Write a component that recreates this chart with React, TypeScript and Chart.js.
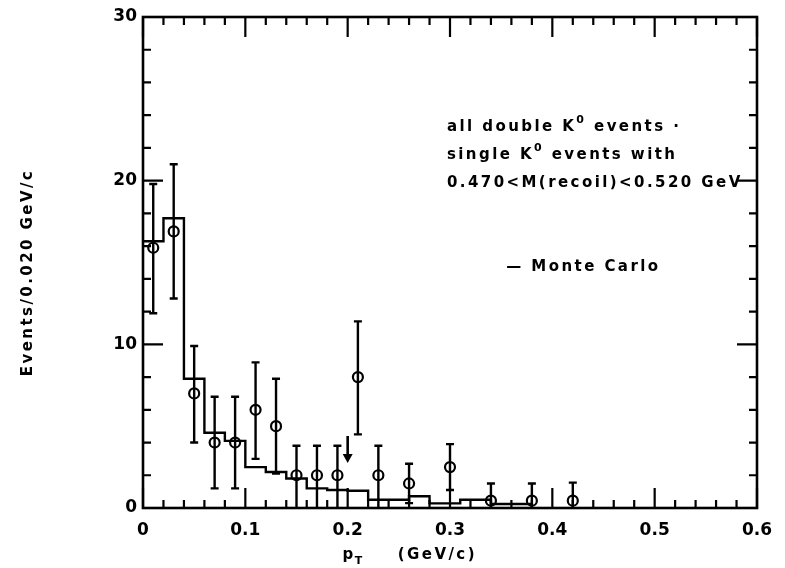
import React, { useEffect, useRef } from "react";
import { Chart, registerables } from "chart.js";

Chart.register(...registerables);

// Measured points: pT bin centres (GeV/c), events per 0.020 GeV/c, error bar ends
const ptCenters = [0.01, 0.03, 0.05, 0.07, 0.09, 0.11, 0.13, 0.15, 0.17, 0.19, 0.21, 0.23, 0.26, 0.30, 0.34, 0.38, 0.42];
const events = [15.9, 16.9, 7.0, 4.0, 4.0, 6.0, 5.0, 2.0, 2.0, 2.0, 8.0, 2.0, 1.5, 2.5, 0.45, 0.45, 0.45];
const errLow = [11.9, 12.8, 4.0, 1.2, 1.2, 3.0, 2.1, 0, 0, 0, 4.5, 0, 0.3, 1.1, 0, 0, 0];
const errHigh = [19.8, 21.0, 9.9, 6.8, 6.8, 8.9, 7.9, 3.8, 3.8, 3.8, 11.4, 3.8, 2.7, 3.9, 1.5, 1.5, 1.55];

// Monte Carlo histogram: bin lower edges and contents
const mcEdges = [0, 0.02, 0.04, 0.06, 0.08, 0.10, 0.12, 0.14, 0.16, 0.18, 0.20, 0.22, 0.26, 0.28, 0.31, 0.34, 0.38];
const mcValues = [16.3, 17.7, 7.9, 4.6, 4.1, 2.5, 2.2, 1.8, 1.2, 1.1, 1.05, 0.5, 0.72, 0.28, 0.5, 0.24, 0];

// Axis ticks
const xTicks = [0, 0.1, 0.2, 0.3, 0.4, 0.5, 0.6];
const xTickLabels = ["0", "0.1", "0.2", "0.3", "0.4", "0.5", "0.6"];
const yTicks = [0, 10, 20, 30];
const yTickLabels = ["0", "10", "20", "30"];
const xMinorStep = 0.02;
const yMinorStep = 2;

// Arrow marker (x, from, to) in data units
const arrowX = 0.2;
const arrowFrom = 4.4;
const arrowTo = 2.75;

// Texts
const noteLines = [
  [{ t: "all double K" }, { t: "0", sup: true }, { t: " events \u00b7" }],
  [{ t: "single K" }, { t: "0", sup: true }, { t: " events with" }],
  [{ t: "0.470<M(recoil)<0.520 GeV" }],
];
const noteY = [23.3, 21.55, 19.85];
const noteX = 0.297;
const mcLabel = "\u2014 Monte Carlo";
const mcLabelX = 0.355;
const mcLabelY = 14.7;
const yTitle = "Events/0.020 GeV/c";

const FAMILY = '"DejaVu Sans", "Liberation Sans", sans-serif';
const W = "bold";

type Part = { t: string; sup?: boolean; sub?: boolean };

function setFont(ctx: any, size: number, spacing: number) {
  ctx.font = `${W} ${size}px ${FAMILY}`;
  ctx.letterSpacing = `${spacing}px`;
}

function drawRich(ctx: any, parts: Part[], x: number, y: number, size: number, spacing: number) {
  let cx = x;
  for (const p of parts) {
    const fs = p.sup || p.sub ? Math.round(size * 0.75) : size;
    setFont(ctx, fs, spacing);
    const dy = p.sup ? -size * 0.45 : p.sub ? size * 0.38 : 0;
    ctx.fillText(p.t, cx, y + dy);
    cx += ctx.measureText(p.t).width;
  }
  return cx;
}

function richWidth(ctx: any, parts: Part[], size: number) {
  let w = 0;
  let n = 0;
  for (const p of parts) {
    const fs = p.sup || p.sub ? Math.round(size * 0.75) : size;
    setFont(ctx, fs, 0);
    w += ctx.measureText(p.t).width;
    n += p.t.length;
  }
  return { w, n };
}

const overlay = {
  id: "overlay",
  beforeDatasetsDraw(chart: any) {
    const { ctx, scales } = chart;
    const x = scales.x;
    const y = scales.y;
    ctx.save();
    ctx.strokeStyle = "#000";
    ctx.lineWidth = 2.4;
    const cap = 4;
    for (let i = 0; i < ptCenters.length; i++) {
      const px = x.getPixelForValue(ptCenters[i]);
      const y1 = y.getPixelForValue(errLow[i]);
      const y2 = y.getPixelForValue(errHigh[i]);
      ctx.beginPath();
      ctx.moveTo(px, y1);
      ctx.lineTo(px, y2);
      ctx.moveTo(px - cap, y2);
      ctx.lineTo(px + cap, y2);
      if (errLow[i] > 0) {
        ctx.moveTo(px - cap, y1);
        ctx.lineTo(px + cap, y1);
      }
      ctx.stroke();
    }
    ctx.restore();
  },
  afterDraw(chart: any) {
    const { ctx, chartArea, scales } = chart;
    const x = scales.x;
    const y = scales.y;
    const { left, right, top, bottom } = chartArea;
    ctx.save();
    ctx.strokeStyle = "#000";
    ctx.fillStyle = "#000";
    ctx.lineWidth = 2.6;
    ctx.strokeRect(left, top, right - left, bottom - top);

    // inward ticks
    ctx.lineWidth = 2.2;
    const major = 20;
    const minor = 8;
    const nx = Math.round((x.max - x.min) / xMinorStep);
    for (let k = 0; k <= nx; k++) {
      const v = x.min + k * xMinorStep;
      const px = x.getPixelForValue(v);
      const len = k % 5 === 0 ? major : minor;
      ctx.beginPath();
      ctx.moveTo(px, bottom);
      ctx.lineTo(px, bottom - len);
      ctx.moveTo(px, top);
      ctx.lineTo(px, top + len);
      ctx.stroke();
    }
    const ny = Math.round((y.max - y.min) / yMinorStep);
    for (let k = 0; k <= ny; k++) {
      const v = y.min + k * yMinorStep;
      const py = y.getPixelForValue(v);
      const len = k % 5 === 0 ? major : minor;
      ctx.beginPath();
      ctx.moveTo(left, py);
      ctx.lineTo(left + len, py);
      ctx.moveTo(right, py);
      ctx.lineTo(right - len, py);
      ctx.stroke();
    }

    // arrow
    const ax = x.getPixelForValue(arrowX);
    const ay1 = y.getPixelForValue(arrowFrom);
    const ay2 = y.getPixelForValue(arrowTo);
    ctx.lineWidth = 2.6;
    ctx.beginPath();
    ctx.moveTo(ax, ay1);
    ctx.lineTo(ax, ay2 - 6);
    ctx.stroke();
    ctx.beginPath();
    ctx.moveTo(ax - 5, ay2 - 9);
    ctx.lineTo(ax + 5, ay2 - 9);
    ctx.lineTo(ax, ay2);
    ctx.closePath();
    ctx.fill();

    // notes: spacing chosen so that the longest line spans the same width as the reference
    ctx.textBaseline = "middle";
    ctx.textAlign = "left";
    const noteSize = 15;
    const x0 = x.getPixelForValue(noteX);
    const longest = richWidth(ctx, noteLines[2] as Part[], noteSize);
    const targetEnd = x.getPixelForValue(0.586);
    const spacing = Math.max(0, (targetEnd - x0 - longest.w) / longest.n);
    for (let i = 0; i < noteLines.length; i++) {
      drawRich(ctx, noteLines[i] as Part[], x0, y.getPixelForValue(noteY[i]), noteSize, spacing);
    }
    drawRich(ctx, [{ t: mcLabel }], x.getPixelForValue(mcLabelX), y.getPixelForValue(mcLabelY), noteSize, spacing);

    // x title with subscript
    const ty = bottom + 47;
    const cx = drawRich(ctx, [{ t: "p" }, { t: "T", sub: true }], x.getPixelForValue(0.195), ty, 15, 1.5);
    drawRich(ctx, [{ t: "(GeV/c)" }], cx + 34, ty, 15, spacing);

    // y title rotated
    ctx.save();
    ctx.translate(28, (top + bottom) / 2 + 10);
    ctx.rotate(-Math.PI / 2);
    ctx.textAlign = "center";
    setFont(ctx, 15, spacing);
    ctx.fillText(yTitle, 0, 0);
    ctx.restore();

    ctx.restore();
  },
};

export default function App() {
  const ref = useRef<HTMLCanvasElement | null>(null);
  useEffect(() => {
    if (!ref.current) return;
    const chart = new Chart(ref.current, {
      type: "scatter",
      data: {
        datasets: [
          {
            type: "line",
            data: mcEdges.map((e, i) => ({ x: e, y: mcValues[i] })),
            stepped: "before",
            borderColor: "#000",
            borderWidth: 2.4,
            pointRadius: 0,
            fill: false,
          } as any,
          {
            type: "scatter",
            data: ptCenters.map((c, i) => ({ x: c, y: events[i] })),
            pointStyle: "circle",
            pointRadius: 5,
            pointBorderWidth: 2.2,
            borderColor: "#000",
            backgroundColor: "rgba(255,255,255,0)",
            showLine: false,
          } as any,
        ],
      },
      options: {
        animation: false,
        responsive: false,
        devicePixelRatio: 1,
        layout: { padding: { top: 17, right: 28, left: 0, bottom: 0 } },
        plugins: { legend: { display: false }, tooltip: { enabled: false } },
        scales: {
          x: {
            type: "linear",
            min: 0,
            max: 0.6,
            grid: { display: false, drawTicks: false },
            border: { display: false },
            afterBuildTicks: (s: any) => {
              s.ticks = xTicks.map((v) => ({ value: v }));
            },
            afterFit: (s: any) => {
              s.height = 60;
            },
            ticks: {
              color: "#000",
              font: { family: FAMILY, size: 17, weight: "bold" },
              padding: 12,
              maxRotation: 0,
              autoSkip: false,
              callback: (_v: any, i: number) => xTickLabels[i],
            },
          },
          y: {
            type: "linear",
            min: 0,
            max: 30,
            grid: { display: false, drawTicks: false },
            border: { display: false },
            afterBuildTicks: (s: any) => {
              s.ticks = yTicks.map((v) => ({ value: v }));
            },
            afterFit: (s: any) => {
              s.width = 143;
            },
            ticks: {
              color: "#000",
              font: { family: FAMILY, size: 17, weight: "bold" },
              padding: 6,
              autoSkip: false,
              callback: (_v: any, i: number) => yTickLabels[i],
            },
          },
        },
      },
      plugins: [overlay],
    });
    return () => chart.destroy();
  }, []);
  return (
    <div style={{ position: "fixed", left: 0, top: 0, width: 785, height: 568, background: "#fff" }}>
      <canvas ref={ref} width={785} height={568} style={{ width: 785, height: 568, display: "block" }} />
    </div>
  );
}
